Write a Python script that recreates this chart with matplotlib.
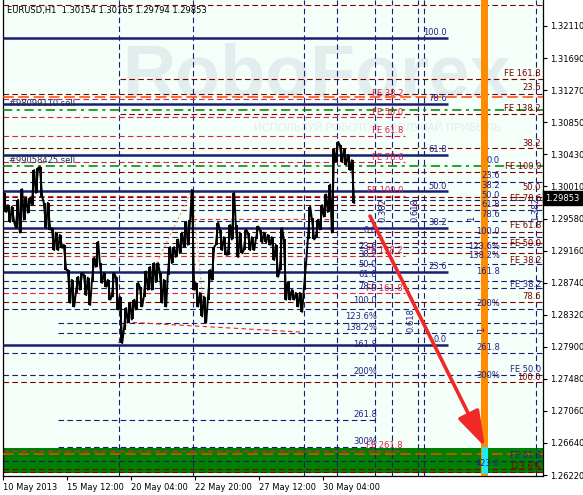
import matplotlib.pyplot as plt
import numpy as np
from matplotlib.patches import Rectangle
from matplotlib.transforms import blended_transform_factory

plt.rcParams["font.family"] = ["DejaVu Sans"]

# EURUSD H1, one entry per 4 bars (high / low)
price_high = [1.2992, 1.2976, 1.2974, 1.2983, 1.2997, 1.2986, 1.2986, 1.3022, 1.3025, 1.3026,
              1.2979, 1.2979, 1.2946, 1.2940, 1.2937, 1.2924, 1.2891, 1.2878, 1.2882, 1.2887,
              1.2885, 1.2881, 1.2907, 1.2928, 1.2900, 1.2887, 1.2878, 1.2887, 1.2882, 1.2856,
              1.2841, 1.2848, 1.2852, 1.2874, 1.2869, 1.2889, 1.2895, 1.2900, 1.2900, 1.2887,
              1.2878, 1.2921, 1.2921, 1.2931, 1.2940, 1.2954, 1.2957, 1.2996, 1.2874, 1.2861,
              1.2856, 1.2891, 1.2921, 1.2953, 1.2944, 1.2934, 1.2950, 1.2992, 1.2950, 1.2940,
              1.2944, 1.2940, 1.2934, 1.2948, 1.2944, 1.2940, 1.2937, 1.2934, 1.2924, 1.2946,
              1.2931, 1.2875, 1.2865, 1.2861, 1.2861, 1.2902, 1.2974, 1.2959, 1.2957, 1.2976,
              1.2990, 1.3003, 1.3049, 1.3059, 1.3055, 1.3049, 1.3042, 1.3035]
price_low = [1.2967, 1.2954, 1.2954, 1.2946, 1.2940, 1.2957, 1.2966, 1.2976, 1.2992, 1.2987,
             1.2946, 1.2944, 1.2917, 1.2917, 1.2920, 1.2891, 1.2848, 1.2843, 1.2861, 1.2865,
             1.2858, 1.2845, 1.2875, 1.2895, 1.2874, 1.2869, 1.2852, 1.2856, 1.2839, 1.2795,
             1.2812, 1.2822, 1.2826, 1.2839, 1.2843, 1.2856, 1.2865, 1.2865, 1.2875, 1.2848,
             1.2843, 1.2885, 1.2900, 1.2908, 1.2913, 1.2921, 1.2924, 1.2865, 1.2843, 1.2830,
             1.2822, 1.2852, 1.2878, 1.2924, 1.2917, 1.2911, 1.2911, 1.2931, 1.2908, 1.2913,
             1.2917, 1.2917, 1.2917, 1.2931, 1.2927, 1.2927, 1.2924, 1.2904, 1.2882, 1.2891,
             1.2852, 1.2852, 1.2852, 1.2843, 1.2836, 1.2865, 1.2931, 1.2931, 1.2934, 1.2944,
             1.2961, 1.2967, 1.2940, 1.3033, 1.3033, 1.3029, 1.3022, 1.2979]
bars_per_point = 4
last_price = "1.29853"
title = "EURUSD,H1  1.30154 1.30165 1.29794 1.29853"

date_ticks = [0, 64, 128, 192, 256, 320]
date_labels = ["10 May 2013", "15 May 12:00", "20 May 04:00", "22 May 20:00",
               "27 May 12:00", "30 May 04:00"]
price_ticks = [1.32110, 1.31690, 1.31270, 1.30850, 1.30430, 1.30010, 1.29580, 1.29160,
               1.28740, 1.28320, 1.27900, 1.27480, 1.27060, 1.26640, 1.26220]

# fibo retracement (solid navy)
retr_100 = 1.31953
retr_0 = 1.27929
retr_levels = [100.0, 78.6, 61.8, 50.0, 38.2, 23.6, 0.0]

# fibo expansion (crimson "FE" lines)
fe_0 = 1.31945
fe_100 = 1.29880
fe_levels = [38.2, 50.0, 61.8, 78.6, 100.0, 138.2, 161.8, 261.8]

navy_dashed = [1.30068, 1.29828, 1.29696, 1.29552, 1.29338, 1.29207, 1.28984, 1.28765,
               1.28669, 1.28394, 1.27820, 1.27528, 1.26404]
navy_dashed_mid = [1.28210, 1.28083]
navy_dashed_short = [1.26938, 1.26583]
maroon_dashed = [1.32386, 1.31218, 1.30506, 1.30191, 1.29863, 1.29766, 1.29412, 1.29260,
                 1.29136, 1.28496, 1.27440, 1.26299, 1.26266]
maroon_dashed_right = [1.31411, 1.30952]
order_lines = [1.31008, 1.30277]
target_lines = [1.31183, 1.26496]
order_labels = ["#98099110 sell", "#99058425 sell"]
order_label_prices = [1.31087, 1.30352]

time_lines = [116, 190, 301, 334, 372, 389, 415, 421, 533]

green_zone = (1.26246, 1.26574)
cyan_zone = (1.26233, 1.26587)
forecast_bar = 481.5
arrow_from = (367, 1.29617)
arrow_to = (482, 1.26587)

red_trend = ([122, 297], [1.28227, 1.28096])
red_level = ([189, 327], [1.29578, 1.29578])
zigzag = ([115, 189, 202], [1.27951, 1.29959, 1.28214])

# labels on the right edge
maroon_labels = ["FE 161.8", "23.6", "FE 138.2", "38.2", "FE 100.0", "50.0", "FE 78.6",
                 "FE 61.8", "FE 50.0", "FE 38.2", "78.6", "100.0", "123.6%"]
maroon_label_prices = [1.31493, 1.31297, 1.31034, 1.30575, 1.30273, 1.29998, 1.29841,
                       1.29499, 1.29263, 1.29040, 1.28568, 1.27505, 1.26338]
navy_edge_labels = ["FE 38.2", "FE 50.0", "FE 61.8"]
navy_edge_prices = [1.28725, 1.27610, 1.26482]
# labels next to the orange line
navy_bar_labels = ["0.0", "23.6", "38.2", "50.0", "61.8", "78.6", "100.0", "123.6%",
                   "138.2%", "161.8", "200%", "261.8", "300%", "423.6"]
navy_bar_prices = [1.30352, 1.30155, 1.30024, 1.29880, 1.29762, 1.29631, 1.29408, 1.29211,
                   1.29093, 1.28883, 1.28476, 1.27899, 1.27519, 1.26377]
# labels of the second expansion
navy_mid_labels = ["0.0", "23.6", "38.2", "50.0", "61.8", "78.6", "100.0", "123.6%",
                   "138.2%", "161.8", "200%", "261.8", "300%"]
navy_mid_prices = [1.29421, 1.29224, 1.29106, 1.28975, 1.28844, 1.28699, 1.28503, 1.28293,
                   1.28161, 1.27938, 1.27584, 1.27020, 1.26666]
# fibo time zone labels
time_labels = ["0.382", "0.618", "1", "1.382", "0.618", "1"]
time_label_pos = [(380, 1.29696), (412, 1.29696), (469, 1.29591), (533, 1.29709),
                  (408, 1.28253), (479, 1.28135)]

NAVY = "#1c1c72"
NAVY_TXT = "#22228a"
MAROON = "#800000"
CRIMSON = "#e0204a"
DASH = (0, (5, 3))

fig = plt.figure(figsize=(5.83, 4.95), dpi=100)
fig.patch.set_facecolor("white")
ax = fig.add_axes([3 / 583, 19 / 495, 540 / 583, 476 / 495])
ax.set_facecolor("#f3fff8")
ax.set_xlim(0, 540)
ax.set_ylim(1.26207, 1.32451)

# watermark
ax.text(313, 1.31447, "RoboForex", family=["Liberation Sans", "DejaVu Sans"],
        fontsize=53, fontweight="bold", color="#e2eded", ha="center", va="center", zorder=0)
ax.text(374, 1.30772, "ИСПОЛЬЗУЙ РОБОТОВ - ПОЛУЧАЙ ПРИБЫЛЬ", fontsize=8,
        family=["Liberation Sans", "DejaVu Sans"], color="#e2eded",
        ha="center", va="center", zorder=0)

ax.axhspan(*green_zone, color="#008000", lw=0, zorder=1)

for x in time_lines:
    ax.axvline(x, color=NAVY, lw=0.8, linestyle=DASH, zorder=2)

ax.hlines(navy_dashed, 0, 540, color=NAVY, lw=0.8, linestyles=DASH, zorder=2)
ax.hlines(navy_dashed_mid, 55, 540, color=NAVY, lw=0.8, linestyles=DASH, zorder=2)
ax.hlines(navy_dashed_short, 55, 373, color=NAVY, lw=0.8, linestyles=DASH, zorder=2)
ax.hlines(maroon_dashed, 0, 540, color=MAROON, lw=0.8, linestyles=DASH, zorder=2)
ax.hlines(maroon_dashed_right, 117, 540, color=MAROON, lw=0.8, linestyles=DASH, zorder=2)

fe_prices = [fe_0 + (fe_100 - fe_0) * lv / 100 for lv in fe_levels]
ax.hlines(fe_prices, 0, 402, color=CRIMSON, lw=0.8, linestyles=DASH, zorder=2)
for lv, p in zip(fe_levels, fe_prices):
    ax.annotate(f"FE {lv:.1f}", (400, p), xytext=(0, 0.5), textcoords="offset points",
                ha="right", va="bottom", fontsize=6, color=CRIMSON, zorder=6)

ax.hlines(order_lines, 0, 540, color="#008000", lw=1.1, linestyles=(0, (6, 3, 2, 3)), zorder=3)
ax.hlines(target_lines, 0, 540, color="#ff4500", lw=1.1, linestyles=(0, (7, 3)), zorder=3)
for txt, p in zip(order_labels, order_label_prices):
    ax.text(6, p, txt, fontsize=6, color="#2a2a55", va="center", zorder=6)

retr_prices = [retr_0 + (retr_100 - retr_0) * lv / 100 for lv in retr_levels]
ax.hlines(retr_prices, 0, 445, color=NAVY, lw=1.8, zorder=4)
for lv, p in zip(retr_levels, retr_prices):
    ax.annotate(f"{lv:.1f}", (444, p), xytext=(0, 0.6), textcoords="offset points",
                ha="right", va="bottom", fontsize=6, color=NAVY_TXT, zorder=6)

ax.plot(*zigzag, color="#f4a070", lw=0.8, linestyle=(0, (2, 2)), zorder=3)
ax.plot(*red_trend, color="#ff1a1a", lw=0.8, linestyle=(0, (4, 3)), zorder=3)
ax.plot(*red_level, color="#ff1a1a", lw=0.8, linestyle=(0, (4, 3)), zorder=3)

# price bars: vertical high-low ranges joined as a jagged line
x = np.arange(len(price_high)) * bars_per_point + bars_per_point / 2
hi = np.array(price_high)
lo = np.array(price_low)
mid = (hi + lo) / 2
path_x, path_y = [], []
for i in range(len(x)):
    rising = i > 0 and mid[i] > mid[i - 1]
    first, second = (lo[i], hi[i]) if rising else (hi[i], lo[i])
    path_x += [x[i] - 1.2, x[i] + 1.2]
    path_y += [first, second]
ax.vlines(x, lo, hi, color="black", lw=1.4, zorder=5)
ax.plot(path_x, path_y, color="black", lw=1.4, zorder=5)

# forecast line with target zone
ax.axvspan(forecast_bar - 3.5, forecast_bar + 3.5, color="#ff8c00", lw=0, zorder=5)
ax.add_patch(Rectangle((forecast_bar - 3, cyan_zone[0]), 6, cyan_zone[1] - cyan_zone[0],
                       color="#22e8f2", lw=0, zorder=6))
ax.annotate("", xy=arrow_to, xytext=arrow_from, zorder=7,
            arrowprops=dict(arrowstyle="-|>,head_length=2.2,head_width=0.7",
                            color="#f02828", lw=2.6, shrinkA=0, shrinkB=0))

for txt, p in zip(maroon_labels, maroon_label_prices):
    ax.text(538, p, txt, fontsize=6, color=MAROON, ha="right", va="center", zorder=6)
for txt, p in zip(navy_edge_labels, navy_edge_prices):
    ax.text(538, p, txt, fontsize=6, color=NAVY_TXT, ha="right", va="center", zorder=6)
for txt, p in zip(navy_bar_labels, navy_bar_prices):
    ax.text(497, p, txt, fontsize=6, color=NAVY_TXT, ha="right", va="center", zorder=8)
for txt, p in zip(navy_mid_labels, navy_mid_prices):
    ax.text(374, p, txt, fontsize=6, color=NAVY_TXT, ha="right", va="center", zorder=6)
for txt, (bx, p) in zip(time_labels, time_label_pos):
    ax.text(bx, p, txt, fontsize=6, color=NAVY_TXT, rotation=90, ha="center",
            va="center", zorder=6)

ax.text(0.0075, 0.977, title, transform=ax.transAxes, fontsize=6, va="center", zorder=9)

# axes
ax.spines["top"].set_visible(False)
for side in ["left", "right", "bottom"]:
    ax.spines[side].set_linewidth(0.9)
ax.yaxis.tick_right()
ax.set_yticks(price_ticks)
ax.set_yticklabels([f"{t:.5f}" for t in price_ticks])
ax.tick_params(axis="y", length=3, width=0.8, pad=2, labelsize=6)
ax.set_xticks(date_ticks)
ax.set_xticklabels(date_labels, ha="left")
ax.tick_params(axis="x", length=3, width=0.8, pad=2, labelsize=6)

tr = blended_transform_factory(ax.transAxes, ax.transData)
ax.text(1.004, 1.29853, last_price, transform=tr, fontsize=6, color="white",
        va="center", ha="left", zorder=10,
        bbox=dict(boxstyle="square,pad=0.25", fc="black", ec="black"))

fig.savefig("out.png", dpi=100)
